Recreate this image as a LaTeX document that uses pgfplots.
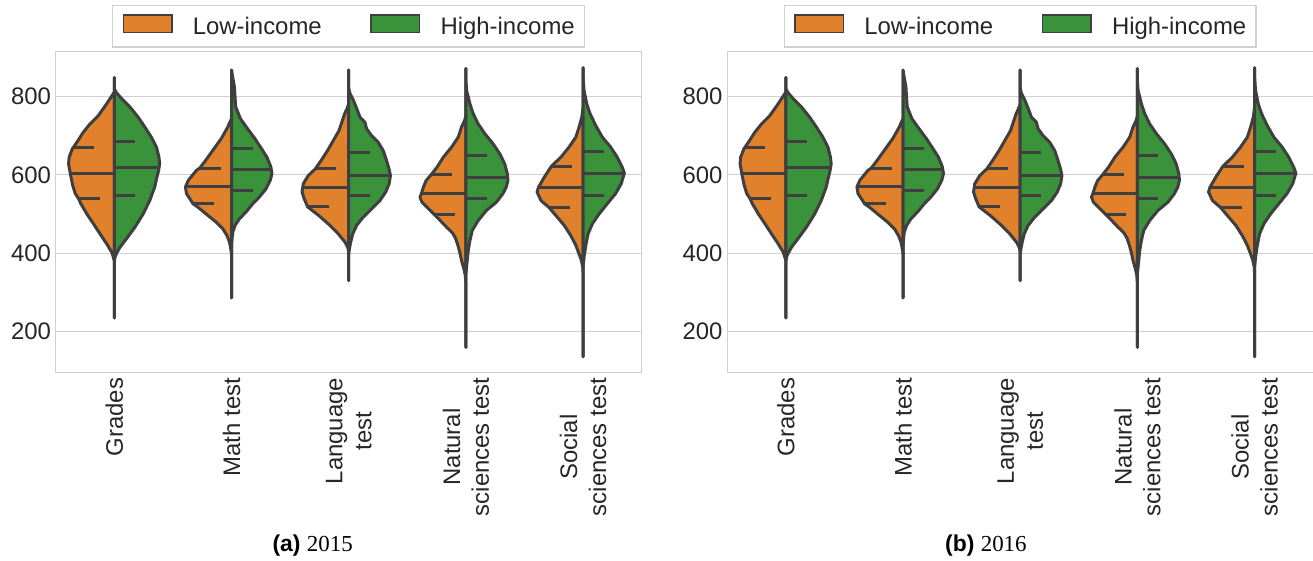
\documentclass[border=0pt]{standalone}
\usepackage{fontspec}
\setmainfont{Liberation Sans}
\newfontfamily\seriffont{Liberation Serif}
\usepackage{pgfplots}
\usepackage{pgfplotstable}
\pgfplotsset{compat=1.18}
\definecolor{lowc}{HTML}{E1812C}
\definecolor{highc}{HTML}{3A923A}
\definecolor{vgray}{HTML}{3F3F3F}
\definecolor{gridc}{HTML}{D0D0D0}
\definecolor{tickc}{HTML}{262626}

% half-violin profiles: v = score, w = half width (category units)
\pgfplotstableread{
v w
848 0
811 0
807 0.008
781 0.065
751 0.136
730 0.206
709 0.263
683 0.319
666 0.358
645 0.385
628 0.390
604 0.376
573 0.355
552 0.333
539 0.305
526 0.285
500 0.234
475 0.178
449 0.121
424 0.065
403 0.023
390 0.008
381 0
235 0
848 0
}\GL
\pgfplotstableread{
v w
848 0
820 0
811 0.014
794 0.062
773 0.133
747 0.203
722 0.260
696 0.316
671 0.359
645 0.381
628 0.387
611 0.378
594 0.364
569 0.345
534 0.302
500 0.246
466 0.175
437 0.104
415 0.048
400 0.020
390 0.006
377 0
235 0
848 0
}\GH
\pgfplotstableread{
v w
867 0
743 0
730 0.020
722 0.031
692 0.088
662 0.160
637 0.220
617 0.271
611 0.300
586 0.368
569 0.393
552 0.384
534 0.345
526 0.328
517 0.285
496 0.200
479 0.130
462 0.073
444 0.037
428 0.017
415 0.008
398 0
286 0
867 0
}\ML
\pgfplotstableread{
v w
867 0
849 0.010
824 0.025
798 0.030
773 0.036
764 0.048
743 0.076
717 0.138
692 0.200
666 0.257
645 0.302
620 0.336
603 0.345
586 0.331
564 0.294
543 0.237
526 0.181
505 0.124
488 0.068
471 0.031
454 0.011
432 0.003
415 0
286 0
867 0
}\MH
\pgfplotstableread{
v w
867 0
781 0
769 0.014
756 0.034
734 0.059
713 0.082
688 0.130
662 0.180
641 0.225
615 0.285
598 0.345
577 0.388
556 0.398
539 0.380
518 0.350
496 0.255
471 0.160
449 0.088
428 0.031
415 0.008
403 0
330 0
867 0
}\LL
\pgfplotstableread{
v w
867 0
820 0
807 0.011
790 0.040
769 0.068
747 0.096
734 0.138
717 0.153
700 0.195
683 0.251
662 0.294
637 0.322
615 0.344
598 0.356
577 0.345
556 0.316
534 0.266
513 0.195
492 0.124
471 0.068
449 0.034
428 0.017
411 0.006
398 0
330 0
867 0
}\LH
\pgfplotstableread{
v w
871 0
751 0
739 0.010
722 0.037
696 0.065
671 0.121
645 0.192
620 0.245
600 0.297
585 0.340
569 0.362
551 0.381
543 0.392
530 0.375
509 0.305
500 0.275
488 0.234
466 0.164
452 0.115
438 0.088
420 0.068
400 0.050
381 0.037
360 0.017
343 0.005
322 0
160 0
871 0
}\NL
\pgfplotstableread{
v w
871 0
841 0
815 0.006
781 0.034
756 0.062
730 0.104
705 0.161
679 0.232
654 0.288
628 0.331
603 0.353
586 0.359
569 0.345
552 0.316
530 0.260
509 0.175
483 0.104
458 0.054
432 0.034
407 0.020
381 0.011
347 0
160 0
871 0
}\NH
\pgfplotstableread{
v w
873 0
773 0
747 0.011
722 0.034
696 0.062
671 0.119
645 0.189
622 0.270
594 0.331
568 0.381
556 0.393
534 0.359
517 0.292
496 0.232
471 0.161
445 0.105
420 0.062
398 0.034
381 0.014
364 0.003
347 0
136 0
873 0
}\SL
\pgfplotstableread{
v w
873 0
849 0
815 0.008
781 0.031
756 0.059
726 0.107
696 0.164
671 0.234
645 0.291
620 0.333
604 0.352
577 0.325
552 0.277
526 0.206
500 0.136
475 0.079
449 0.042
420 0.023
390 0.008
364 0
136 0
873 0
}\SH

\pgfplotsset{
  violin/.style={line width=1.5bp, draw=vgray, line join=round, line cap=round, forget plot},
  qline/.style={line width=1.5bp, draw=vgray, line cap=butt, dash pattern=on 10.5bp off 10.5bp, forget plot},
  mline/.style={line width=1.5bp, draw=vgray, line cap=butt, forget plot},
  panel/.style={
    width=293bp, height=160.5bp, scale only axis,
    xmin=-0.5, xmax=4.5, ymin=95.5, ymax=913.7,
    xtick={0,1,2,3,4},
    xticklabels={Grades,{Math test},{Language\\test},{Natural\\sciences test},{Social\\sciences test}},
    xticklabel style={rotate=90, anchor=east, align=center, inner sep=0pt, font=\fontsize{12}{14.5}\selectfont, text=tickc},
    ytick={200,400,600,800}, yticklabels={200,400,600,800},
    yticklabel style={anchor=east, inner sep=0pt, font=\fontsize{12}{14.5}\selectfont, text=tickc},
    xticklabel shift=2.4bp, yticklabel shift=2.2bp,
    major tick length=0pt,
    ymajorgrids=true, xmajorgrids=false,
    grid style={draw=gridc, line width=0.65bp},
    axis line style={draw=gridc, line width=0.65bp},
    legend columns=2,
    legend cell align=left,
    legend style={at={(0.5,1)}, anchor=south, yshift=2bp,
      draw=gridc, line width=0.6bp, fill=white,
      inner xsep=4.9bp, inner ysep=4.6bp,
      nodes={inner sep=0pt, text=tickc},
      font=\fontsize{12}{14.5}\selectfont,
      /tikz/every odd column/.append style={column sep=10.1bp},
      /tikz/every even column/.append style={column sep=24.3bp}},
    legend image code/.code={\draw[#1, draw=vgray, line width=0.75bp] (0bp,-2.4bp) rectangle (24.25bp,6.3bp);},
  }
}

\newcommand\violins{%
  \addlegendimage{fill=lowc}\addlegendentry{Low-income}
  \addlegendimage{fill=highc}\addlegendentry{High-income}
  \addplot[violin, fill=lowc] table[x expr={0-\thisrow{w}}, y=v]{\GL};
  \addplot[violin, fill=highc] table[x expr={0+\thisrow{w}}, y=v]{\GH};
  \addplot[violin, fill=lowc] table[x expr={1-\thisrow{w}}, y=v]{\ML};
  \addplot[violin, fill=highc] table[x expr={1+\thisrow{w}}, y=v]{\MH};
  \addplot[violin, fill=lowc] table[x expr={2-\thisrow{w}}, y=v]{\LL};
  \addplot[violin, fill=highc] table[x expr={2+\thisrow{w}}, y=v]{\LH};
  \addplot[violin, fill=lowc] table[x expr={3-\thisrow{w}}, y=v]{\NL};
  \addplot[violin, fill=highc] table[x expr={3+\thisrow{w}}, y=v]{\NH};
  \addplot[violin, fill=lowc] table[x expr={4-\thisrow{w}}, y=v]{\SL};
  \addplot[violin, fill=highc] table[x expr={4+\thisrow{w}}, y=v]{\SH};
  % low-income quartiles (drawn from the edge)
  \addplot[qline] coordinates {(-0.353,669) (0,669)};
  \addplot[mline] coordinates {(-0.376,604) (0,604)};
  \addplot[qline] coordinates {(-0.305,539) (0,539)};
  \addplot[qline] coordinates {(0.729,617) (1,617)};
  \addplot[mline] coordinates {(0.607,569) (1,569)};
  \addplot[qline] coordinates {(0.672,526) (1,526)};
  \addplot[qline] coordinates {(1.715,615) (2,615)};
  \addplot[mline] coordinates {(1.610,568) (2,568)};
  \addplot[qline] coordinates {(1.650,518) (2,518)};
  \addplot[qline] coordinates {(2.703,600) (3,600)};
  \addplot[mline] coordinates {(2.619,551) (3,551)};
  \addplot[qline] coordinates {(2.725,500) (3,500)};
  \addplot[qline] coordinates {(3.726,622) (4,622)};
  \addplot[mline] coordinates {(3.619,568) (4,568)};
  \addplot[qline] coordinates {(3.712,517) (4,517)};
  % high-income quartiles (drawn from the centre)
  \addplot[qline] coordinates {(0,686) (0.333,686)};
  \addplot[mline] coordinates {(0,619) (0.381,619)};
  \addplot[qline] coordinates {(0,546) (0.320,546)};
  \addplot[qline] coordinates {(1,668) (1.260,668)};
  \addplot[mline] coordinates {(1,614) (1.336,614)};
  \addplot[qline] coordinates {(1,561) (1.290,561)};
  \addplot[qline] coordinates {(2,657) (2.300,657)};
  \addplot[mline] coordinates {(2,598) (2.359,598)};
  \addplot[qline] coordinates {(2,546) (2.290,546)};
  \addplot[qline] coordinates {(3,650) (3.300,650)};
  \addplot[mline] coordinates {(3,594) (3.359,594)};
  \addplot[qline] coordinates {(3,540) (3.280,540)};
  \addplot[qline] coordinates {(4,660) (4.260,660)};
  \addplot[mline] coordinates {(4,604) (4.353,604)};
  \addplot[qline] coordinates {(4,547) (4.260,547)};
}

\begin{document}
\begin{tikzpicture}
\useasboundingbox (0,0) rectangle (656.5bp,280.5bp);
\begin{axis}[panel, at={(27.85bp,94.15bp)}, anchor=south west]
\violins
\end{axis}
\begin{axis}[panel, at={(363.6bp,94.15bp)}, anchor=south west]
\violins
\end{axis}
\node[text=black, inner sep=0pt] at (156.35bp,7.5bp) {\fontsize{11.5}{13}\selectfont\textbf{(a)} {\seriffont 2015}};
\node[text=black, inner sep=0pt] at (492.95bp,7.5bp) {\fontsize{11.5}{13}\selectfont\textbf{(b)} {\seriffont 2016}};
\end{tikzpicture}
\end{document}
